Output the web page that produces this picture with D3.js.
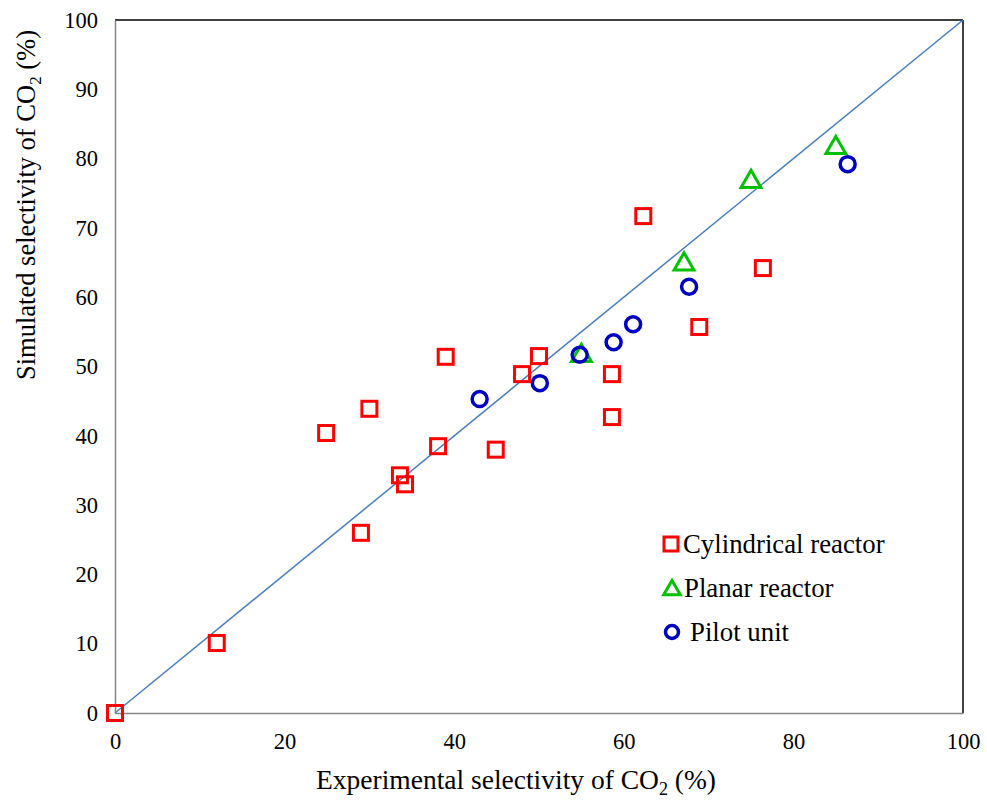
<!DOCTYPE html>
<html>
<head>
<meta charset="utf-8">
<script src="https://cdn.jsdelivr.net/npm/d3@7"></script>
<style>
  body { margin: 0; background: #fff; }
  svg text { font-family: "Liberation Serif", "Times New Roman", serif; }
</style>
</head>
<body>
<div id="chart"></div>
<script>
// Experimental vs simulated CO2 selectivity (%)
const cylindricalX = [0, 12.0, 29.0, 24.9, 30.0, 33.6, 34.2, 38.1, 39.0, 44.9, 48.0, 50.0, 58.6, 58.6, 62.3, 68.9, 76.4];
const cylindricalY = [0, 10.1, 26.0, 40.4, 43.9, 34.3, 33.0, 38.5, 51.4, 38.0, 48.9, 51.5, 48.9, 42.7, 71.7, 55.7, 64.2];
const planarX = [55.0, 67.1, 75.0, 85.0];
const planarY = [51.7, 64.9, 76.8, 81.7];
const pilotX = [43.0, 50.1, 54.8, 58.8, 61.1, 67.7, 86.4];
const pilotY = [45.3, 47.6, 51.7, 53.5, 56.1, 61.5, 79.2];
const ticksX = [0, 20, 40, 60, 80, 100];
const ticksY = [0, 10, 20, 30, 40, 50, 60, 70, 80, 90, 100];

const width = 987, height = 800;
const margin = { left: 115, right: 24, top: 20, bottom: 87 };
const serif = "Liberation Serif, Times New Roman, serif";

const svg = d3.select("#chart").append("svg")
    .attr("width", width)
    .attr("height", height)
    .attr("font-family", serif);

const x = d3.scaleLinear().domain([0, 100]).range([margin.left, width - margin.right]);
const y = d3.scaleLinear().domain([0, 100]).range([height - margin.bottom, margin.top]);

// frame: top/right black, left/bottom gray
svg.append("line").attr("x1", x(0)).attr("x2", x(100)).attr("y1", y(100)).attr("y2", y(100))
    .attr("stroke", "#000").attr("stroke-width", 1.5);
svg.append("line").attr("x1", x(100)).attr("x2", x(100)).attr("y1", y(100)).attr("y2", y(0))
    .attr("stroke", "#000").attr("stroke-width", 1.5);

const xAxis = svg.append("g")
    .attr("transform", `translate(0,${y(0)})`)
    .call(d3.axisBottom(x).tickValues(ticksX).tickSize(0).tickPadding(20));
const yAxis = svg.append("g")
    .attr("transform", `translate(${x(0)},0)`)
    .call(d3.axisLeft(y).tickValues(ticksY).tickSize(0).tickPadding(17));

[xAxis, yAxis].forEach(g => {
    g.attr("font-family", serif).attr("font-size", 22.5);
    g.select(".domain").attr("stroke", "#868686").attr("stroke-width", 1.5);
    g.selectAll("text").attr("fill", "#000");
});

// parity line
svg.append("line")
    .attr("x1", x(0)).attr("y1", y(0))
    .attr("x2", x(100)).attr("y2", y(100))
    .attr("stroke", "#4a7ebb").attr("stroke-width", 1.5);

const sq = 15, circR = 7.5;

function drawSquares(xs, ys) {
    svg.append("g").selectAll("rect").data(xs).join("rect")
        .attr("x", (d, i) => x(d) - sq / 2)
        .attr("y", (d, i) => y(ys[i]) - sq / 2)
        .attr("width", sq).attr("height", sq)
        .attr("fill", "none").attr("stroke", "#ff0000").attr("stroke-width", 3);
}
const triPath = d3.symbol().type(d3.symbolTriangle).size(170);
function drawTriangles(xs, ys) {
    svg.append("g").selectAll("path").data(xs).join("path")
        .attr("d", triPath)
        .attr("transform", (d, i) => `translate(${x(d)},${y(ys[i]) + 1})`)
        .attr("fill", "none").attr("stroke", "#00c000").attr("stroke-width", 3);
}
function drawCircles(xs, ys) {
    svg.append("g").selectAll("circle").data(xs).join("circle")
        .attr("cx", d => x(d))
        .attr("cy", (d, i) => y(ys[i]))
        .attr("r", circR)
        .attr("fill", "none").attr("stroke", "#0000c0").attr("stroke-width", 3.5);
}

drawSquares(cylindricalX, cylindricalY);
drawTriangles(planarX, planarY);
drawCircles(pilotX, pilotY);

// legend
const lx = 671;
const lg = svg.append("g").attr("font-size", 26.8);
lg.append("rect").attr("x", lx - 7).attr("y", 544 - 7).attr("width", 14).attr("height", 14)
    .attr("fill", "none").attr("stroke", "#ff0000").attr("stroke-width", 3);
lg.append("text").attr("x", 683).attr("y", 544).attr("dy", "0.35em").text("Cylindrical reactor");
lg.append("path").attr("d", d3.symbol().type(d3.symbolTriangle).size(120))
    .attr("transform", `translate(${lx + 1},${590})`)
    .attr("fill", "none").attr("stroke", "#00c000").attr("stroke-width", 3);
lg.append("text").attr("x", 684).attr("y", 588).attr("dy", "0.35em").text("Planar reactor");
lg.append("circle").attr("cx", lx + 1).attr("cy", 632).attr("r", 6.5)
    .attr("fill", "none").attr("stroke", "#0000c0").attr("stroke-width", 3.5);
lg.append("text").attr("x", 690).attr("y", 632).attr("dy", "0.35em").text("Pilot unit");

// axis titles
const xt = svg.append("text").attr("x", 516).attr("y", 789)
    .attr("text-anchor", "middle").attr("font-size", 27.5);
xt.append("tspan").text("Experimental selectivity of CO");
xt.append("tspan").attr("font-size", 18).attr("dy", 6).text("2");
xt.append("tspan").attr("dy", -6).text(" (%)");

const yt = svg.append("text")
    .attr("transform", `translate(35,205) rotate(-90)`)
    .attr("text-anchor", "middle").attr("font-size", 26.5);
yt.append("tspan").text("Simulated selectivity of CO");
yt.append("tspan").attr("font-size", 17).attr("dy", 6).text("2");
yt.append("tspan").attr("dy", -6).text(" (%)");
</script>
</body>
</html>
